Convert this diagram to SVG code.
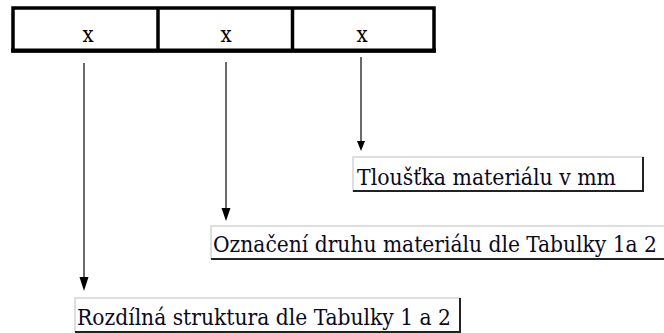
<svg xmlns="http://www.w3.org/2000/svg" width="664" height="333" viewBox="0 0 664 333">
  <defs>
    <style>
      .serif { font-family: "DejaVu Serif", "Liberation Serif", serif; font-stretch: condensed; }
      .cell { fill: #fff; stroke: #000; stroke-width: 3.5; }
      .mark { font-size: 22px; fill: #000; text-anchor: middle; }
      .label { font-size: 23px; fill: #0a0a1e; }
      .box-light { fill: #fff; stroke: #d4d4d4; stroke-width: 1.5; }
      .box-dark { fill: none; stroke: #222; stroke-width: 2; }
      .lead { stroke: #1a1a1a; stroke-width: 1.3; fill: none; }
      .head { fill: #000; }
    </style>
  </defs>

  <!-- code table: three positions -->
  <g id="code-table" class="serif">
    <rect class="cell" x="13" y="8" width="421" height="43"/>
    <line x1="158" y1="8" x2="158" y2="51" stroke="#000" stroke-width="3.5"/>
    <line x1="292.5" y1="8" x2="292.5" y2="51" stroke="#000" stroke-width="3.5"/>
    <line x1="11" y1="50.5" x2="436" y2="50.5" stroke="#000" stroke-width="4"/>
    <text class="mark" x="88" y="42">x</text>
    <text class="mark" x="226" y="42">x</text>
    <text class="mark" x="362" y="42">x</text>
  </g>

  <!-- leader lines from each position -->
  <g id="connectors">
    <line class="lead" x1="84" y1="63" x2="84" y2="280"/>
    <path class="head" d="M79.5,277 L88.5,277 L84,291 Z"/>
    <line class="lead" x1="226" y1="62" x2="226" y2="210"/>
    <path class="head" d="M221.5,208 L230.5,208 L226,221 Z"/>
    <line class="lead" x1="361" y1="57" x2="361" y2="143"/>
    <path class="head" d="M357,141 L365,141 L361,151 Z"/>
  </g>

  <!-- label: thickness -->
  <g id="label-thickness" class="serif">
    <rect class="box-light" x="353" y="157" width="290" height="34"/>
    <polyline class="box-dark" points="353,191 643,191 643,157"/>
    <text class="label" x="357" y="185" textLength="259" lengthAdjust="spacingAndGlyphs">Tloušťka materiálu v mm</text>
  </g>

  <!-- label: material designation (box runs to the right edge) -->
  <g id="label-material" class="serif">
    <polyline class="box-light" points="664,226 211,226 211,259"/>
    <line x1="211" y1="259" x2="664" y2="259" stroke="#222" stroke-width="2"/>
    <text class="label" x="213" y="252" textLength="444" lengthAdjust="spacingAndGlyphs">Označení druhu materiálu dle Tabulky 1a 2</text>
  </g>

  <!-- label: structure -->
  <g id="label-structure" class="serif">
    <rect class="box-light" x="75" y="298" width="385" height="34"/>
    <polyline class="box-dark" points="75,332 460,332 460,298"/>
    <text class="label" x="77" y="325" textLength="374" lengthAdjust="spacingAndGlyphs">Rozdílná struktura dle Tabulky 1 a 2</text>
  </g>
</svg>
